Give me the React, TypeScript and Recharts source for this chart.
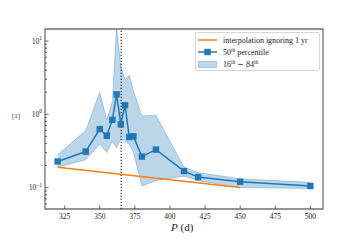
import React from 'react'
import {
  ComposedChart, Line, Area, XAxis, YAxis, ReferenceLine, ReferenceArea,
} from 'recharts'

const periods = [320, 340, 350, 355, 359, 362, 365, 368, 371, 374, 380, 390, 410, 420, 450, 500]
const median = [0.227, 0.31, 0.63, 0.51, 0.84, 1.87, 0.73, 1.33, 0.49, 0.5, 0.265, 0.33, 0.168, 0.139, 0.12, 0.105]
const lower = [0.19, 0.24, 0.39, 0.3, 0.43, 0.35, 0.46, 0.43, 0.39, 0.3, 0.105, 0.125, 0.143, 0.124, 0.1, 0.097]
const upper = [0.28, 0.6, 2.0, 0.85, 1.5, 16, 4.5, 3.0, 3.4, 2.1, 0.95, 0.97, 0.19, 0.16, 0.132, 0.118]
const interpolation = [0.19, null, null, null, null, null, null, null, null, null, null, null, null, null, 0.1, null]

const xTicks = [325, 350, 375, 400, 425, 450, 475, 500]
const yMajor = [0.1, 1, 10]
const yMinor = [0.06, 0.07, 0.08, 0.09, 0.2, 0.3, 0.4, 0.5, 0.6, 0.7, 0.8, 0.9, 2, 3, 4, 5, 6, 7, 8, 9]

const X_DOMAIN: [number, number] = [311, 509]
const Y_DOMAIN: [number, number] = [0.051, 14.6]

const BLUE = '#1f77b4'
const ORANGE = '#ff7f0e'
const FONT = '"Liberation Serif", "DejaVu Serif", serif'

const data = periods.map((p, i) => ({
  p,
  med: median[i],
  band: [lower[i], upper[i]],
  interp: interpolation[i],
}))

function XTick({ x, y, payload }: any) {
  return (
    <g>
      <line x1={x} x2={x} y1={y} y2={y - 3.5} stroke="#444" strokeWidth={0.8} />
      <text x={x} y={y + 10} textAnchor="middle" fontSize={7.5} fill="#222" fontFamily={FONT}>
        {payload.value}
      </text>
    </g>
  )
}

function YTick({ x, y, payload }: any) {
  const v = payload.value
  const major = yMajor.includes(v)
  const exp = Math.round(Math.log10(v))
  return (
    <g>
      <line x1={x} x2={x + (major ? 3.5 : 2)} y1={y} y2={y} stroke="#444" strokeWidth={0.8} />
      {major && (
        <text x={x - 3} y={y + 2.5} textAnchor="end" fontSize={7.5} fill="#222" fontFamily={FONT}>
          10<tspan dy={-3.5} fontSize={5.5}>{exp < 0 ? '\u2212' + Math.abs(exp) : exp}</tspan>
        </text>
      )}
    </g>
  )
}

function SquareDot({ cx, cy }: any) {
  if (cx == null || cy == null) return null
  return <rect x={cx - 3.2} y={cy - 3.2} width={6.4} height={6.4} fill={BLUE} />
}

function Legend() {
  const row: React.CSSProperties = { display: 'flex', alignItems: 'center', height: 12 }
  const txt: React.CSSProperties = { fontSize: 8, color: '#222', marginLeft: 6, whiteSpace: 'nowrap' }
  const sup: React.CSSProperties = { fontSize: 5.5, verticalAlign: 3 }
  return (
    <div style={{
      position: 'absolute', left: 195, top: 32, width: 125, height: 39,
      border: '1px solid #d6d6d6', borderRadius: 2, background: 'rgba(255,255,255,0.85)',
      boxSizing: 'border-box', padding: '1px 0 0 2px', fontFamily: FONT,
    }}>
      <div style={row}>
        <svg width={19} height={6}><line x1={0} x2={19} y1={3} y2={3} stroke={ORANGE} strokeWidth={1.5} /></svg>
        <span style={txt}>interpolation ignoring 1 yr</span>
      </div>
      <div style={row}>
        <svg width={19} height={8}>
          <line x1={0} x2={19} y1={4} y2={4} stroke={BLUE} strokeWidth={1.5} />
          <rect x={6.3} y={0.8} width={6.4} height={6.4} fill={BLUE} />
        </svg>
        <span style={txt}>50<span style={sup}>th</span> percentile</span>
      </div>
      <div style={row}>
        <svg width={19} height={7}><rect x={0.5} y={0.5} width={18} height={6} fill={BLUE} fillOpacity={0.3} stroke={BLUE} strokeOpacity={0.3} /></svg>
        <span style={txt}>16<span style={sup}>th</span> &sim; 84<span style={sup}>th</span></span>
      </div>
    </div>
  )
}

export default function App() {
  return (
    <div style={{ position: 'absolute', left: 0, top: 0, width: 360, height: 240, background: '#fff', fontFamily: FONT }}>
      <ComposedChart width={360} height={240} data={data} margin={{ top: 29, right: 37, left: 0, bottom: 0 }}>
        <XAxis
          dataKey="p" type="number" domain={X_DOMAIN} ticks={xTicks} allowDataOverflow
          height={31} tickSize={0} tickMargin={0} axisLine={false} tick={<XTick />} interval={0}
        />
        <YAxis
          type="number" scale="log" domain={Y_DOMAIN} allowDataOverflow ticks={[...yMinor, ...yMajor]}
          width={45} tickSize={0} tickMargin={0} axisLine={false} tick={<YTick />} interval={0}
        />
        <Area
          type="linear" dataKey="band" fill={BLUE} fillOpacity={0.3} stroke={BLUE} strokeOpacity={0.3}
          strokeWidth={1} isAnimationActive={false} dot={false} activeDot={false}
        />
        <Line
          type="linear" dataKey="interp" stroke={ORANGE} strokeWidth={1.5} connectNulls
          dot={false} activeDot={false} isAnimationActive={false}
        />
        <ReferenceLine x={365.25} stroke="#222" strokeWidth={1.1} strokeDasharray="1.2 1.8" />
        <Line
          type="linear" dataKey="med" stroke={BLUE} strokeWidth={1.5}
          dot={<SquareDot />} activeDot={false} isAnimationActive={false}
        />
        <ReferenceArea
          x1={X_DOMAIN[0]} x2={X_DOMAIN[1]} y1={Y_DOMAIN[0]} y2={Y_DOMAIN[1]}
          fill="none" fillOpacity={0} stroke="#707070" strokeWidth={1.3}
        />
      </ComposedChart>
      <Legend />
      <div style={{ position: 'absolute', left: 12, top: 112, fontSize: 7, color: '#222' }}>[1]</div>
      <div style={{ position: 'absolute', left: 171, top: 221, fontSize: 11, color: '#222', whiteSpace: 'nowrap' }}>
        <i>P</i> (d)
      </div>
    </div>
  )
}
